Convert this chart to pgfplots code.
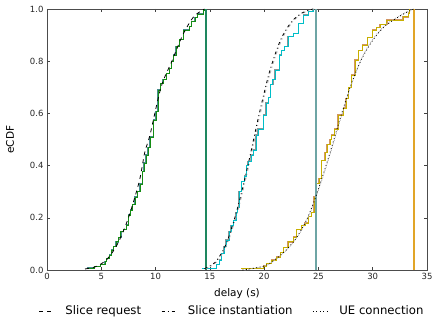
\documentclass[border=0pt]{standalone}
\usepackage{fontspec}
\setmainfont{DejaVu Sans}
\usepackage{pgfplots}
\pgfplotsset{compat=1.18}
\definecolor{cgreen}{RGB}{20,140,20}
\definecolor{cteal}{RGB}{70,140,140}
\definecolor{cvert1}{RGB}{30,135,95}
\definecolor{ccyan}{RGB}{0,190,200}
\definecolor{cgray}{RGB}{135,150,150}
\definecolor{cvert2}{RGB}{110,165,165}
\definecolor{cyel}{RGB}{200,175,0}
\definecolor{ctan}{RGB}{210,150,100}
\definecolor{cvert3}{RGB}{225,165,40}
\begin{document}
\begin{tikzpicture}
\useasboundingbox (-47bp,-50bp) rectangle (398bp,270bp);
\begin{axis}[
  at={(0,0)}, anchor=south west,
  width=380bp, height=261bp, scale only axis,
  xmin=0, xmax=35, ymin=0, ymax=1,
  xtick={0,5,...,35}, ytick={0,0.2,...,1.0},
  yticklabel style={/pgf/number format/.cd,fixed,fixed zerofill,precision=1},
  /pgf/number format/assume math mode=true,
  tick align=inside, major tick length=3bp,
  tick style={black!75, line width=0.5pt},
  axis line style={black!70, line width=0.8pt},
  tick label style={font=\fontsize{8.5bp}{10bp}\selectfont, text=black!85},
  label style={font=\fontsize{10.5bp}{12bp}\selectfont},
  xlabel={delay (s)}, ylabel={eCDF},
  xlabel style={at={(axis description cs:0.5,-0.092)}, anchor=center},
  ylabel style={at={(axis description cs:-0.097,0.5)}, anchor=center},
  legend columns=3,
  legend style={draw=none, fill=none, at={(axis description cs:0.487,-0.157)}, anchor=center,
    font=\fontsize{11.7bp}{13bp}\selectfont,
    /tikz/every odd column/.append style={column sep=9bp},
    /tikz/every even column/.append style={column sep=18bp}},
  legend image code/.code={\draw[#1] (0bp,0bp) -- (15bp,0bp);},
  clip=true,
]
% group 1 teal (under)
\addplot[const plot mark left, cteal, line width=1.4pt, forget plot] coordinates {
(3.65,0.007) (4.4,0.013) (4.94,0.02) (5.34,0.032) (5.5,0.045) (5.74,0.057) (5.96,0.077) (6.1,0.09)
(6.37,0.108) (6.58,0.125) (6.8,0.147) (7.05,0.155) (7.3,0.172) (7.5,0.21) (7.67,0.23) (7.9,0.25)
(8.12,0.28) (8.33,0.30) (8.58,0.33) (8.79,0.377) (8.95,0.41) (9.13,0.44) (9.3,0.47) (9.48,0.51)
(9.79,0.575) (10.03,0.607) (10.2,0.69) (10.46,0.715) (10.7,0.73) (11.0,0.754) (11.27,0.773)
(11.48,0.80) (11.63,0.824) (11.88,0.856) (12.19,0.884) (12.6,0.92) (13.1,0.932) (13.3,0.951)
(13.63,0.968) (13.84,0.981) (14.4,0.994) (14.5,1.0)};
% group 1 green
\addplot[const plot mark left, cgreen, line width=0.7pt, forget plot] coordinates {
(3.65,0.007) (4.4,0.013) (4.94,0.02) (5.34,0.032) (5.5,0.045) (5.74,0.057) (5.96,0.077) (6.1,0.09)
(6.37,0.108) (6.58,0.125) (6.8,0.147) (7.05,0.155) (7.3,0.172) (7.5,0.21) (7.67,0.23) (7.9,0.25)
(8.12,0.28) (8.33,0.30) (8.58,0.33) (8.79,0.377) (8.95,0.41) (9.13,0.44) (9.3,0.47) (9.48,0.51)
(9.79,0.575) (10.03,0.607) (10.25,0.69) (10.46,0.715) (10.7,0.73) (11.0,0.754) (11.27,0.773)
(11.48,0.80) (11.63,0.824) (11.88,0.856) (12.19,0.884) (12.6,0.92) (13.1,0.932) (13.3,0.951)
(13.63,0.968) (13.84,0.981) (14.4,0.994) (14.5,1.0)};
% group 2 gray (under)
\addplot[const plot mark left, cgray, line width=1.4pt, forget plot] coordinates {
(14.3,0.006) (15.6,0.02) (15.9,0.038) (16.1,0.064) (16.3,0.09) (16.5,0.115) (16.75,0.147)
(16.94,0.17) (17.2,0.19) (17.4,0.22) (17.55,0.24) (17.7,0.30) (17.9,0.34) (18.2,0.36) (18.4,0.40)
(18.5,0.415) (18.8,0.44) (19.0,0.46) (19.25,0.517) (19.45,0.54) (19.92,0.594) (20.16,0.64)
(20.38,0.66) (20.6,0.71) (20.8,0.73) (21.0,0.766) (21.4,0.824) (21.6,0.84) (21.9,0.857)
(22.2,0.894) (22.7,0.906) (23.15,0.945) (23.6,0.977) (24.06,0.99) (24.5,1.0)};
% group 2 cyan
\addplot[const plot mark left, ccyan, line width=0.7pt, forget plot] coordinates {
(14.24,0.006) (15.6,0.02) (15.9,0.038) (16.1,0.064) (16.3,0.09) (16.5,0.115) (16.75,0.147)
(16.94,0.17) (17.2,0.19) (17.4,0.22) (17.55,0.24) (17.7,0.30) (17.9,0.34) (18.2,0.36) (18.4,0.40)
(18.5,0.415) (18.8,0.44) (19.0,0.46) (19.25,0.517) (19.45,0.54) (19.92,0.594) (20.16,0.64)
(20.38,0.66) (20.6,0.71) (20.8,0.73) (21.0,0.766) (21.4,0.824) (21.6,0.84) (21.9,0.857)
(22.2,0.894) (22.7,0.906) (23.15,0.945) (23.6,0.977) (24.06,0.99) (24.5,1.0)};
% group 3 tan (under)
\addplot[const plot mark left, ctan, line width=1.4pt, forget plot] coordinates {
(19.9,0.015) (20.2,0.026) (20.7,0.038) (21.15,0.05) (21.5,0.066) (21.8,0.087) (22.2,0.108)
(22.7,0.127) (23.0,0.156) (23.45,0.17) (23.76,0.18) (24.06,0.204) (24.37,0.22) (24.6,0.28)
(24.83,0.332) (25.07,0.35) (25.3,0.42) (25.6,0.45) (25.8,0.48) (26.06,0.50) (26.2,0.517)
(26.5,0.54) (26.8,0.594) (27.3,0.62) (27.53,0.658) (27.75,0.70) (28.05,0.747) (28.36,0.805)
(28.67,0.84) (29.07,0.862) (29.5,0.89) (30.0,0.92) (30.36,0.93) (30.67,0.94) (31.3,0.958)
(32.8,0.97) (33.3,0.985) (33.4,1.0)};
% group 3 yellow
\addplot[const plot mark left, cyel, line width=0.7pt, forget plot] coordinates {
(17.9,0.006) (19.9,0.015) (20.2,0.026) (20.7,0.038) (21.15,0.05) (21.5,0.066) (21.8,0.087) (22.2,0.108)
(22.7,0.127) (23.0,0.156) (23.45,0.17) (23.76,0.18) (24.06,0.204) (24.37,0.22) (24.6,0.28)
(24.83,0.332) (25.07,0.35) (25.3,0.42) (25.6,0.45) (25.8,0.48) (26.06,0.50) (26.2,0.517)
(26.5,0.54) (26.8,0.594) (27.3,0.62) (27.53,0.658) (27.75,0.70) (28.05,0.747) (28.36,0.805)
(28.67,0.84) (29.07,0.862) (29.5,0.89) (30.0,0.92) (30.36,0.93) (30.67,0.94) (31.3,0.958)
(32.5,0.958) (32.8,0.97) (33.3,0.985) (33.4,1.0)};
% vertical lines (max)
\addplot[cvert1, line width=1.8pt, forget plot] coordinates {(14.62,0) (14.62,1)};
\addplot[cvert2, line width=1.5pt, forget plot] coordinates {(24.77,0) (24.77,1)};
\addplot[cvert3, line width=1.5pt, forget plot] coordinates {(33.8,0) (33.8,1)};
% light gray fits
\addplot[black!30, line width=0.8pt, dash pattern=on 3bp off 3bp on 1bp off 3bp, smooth, forget plot] coordinates {
(14.6,0.005) (15.6,0.03) (16.6,0.1) (17.6,0.23) (18.6,0.40) (19.6,0.59) (20.6,0.76) (21.6,0.88) (22.6,0.95) (23.6,0.985) (24.6,1.0)};
\addplot[black!30, line width=0.8pt, dash pattern=on 1bp off 2.5bp, smooth, forget plot] coordinates {
(18.2,0.0) (20.2,0.017) (21.2,0.045) (22.2,0.082) (23.2,0.135) (24.2,0.215) (25.2,0.33) (26.2,0.46) (27.2,0.60) (28.2,0.73) (29.2,0.83) (30.2,0.895) (31.2,0.94) (32.2,0.967) (33.2,0.99) (33.8,1.0)};
% fits (black)
\addplot[black, line width=0.8pt, dash pattern=on 4bp off 4bp, smooth] coordinates {
(3.5,0.004) (4.5,0.013) (5.5,0.04) (6.5,0.1) (7.5,0.2) (8.5,0.34) (9.0,0.45) (9.5,0.52) (10.5,0.7) (11.5,0.8) (12.5,0.9) (13.5,0.97) (14.5,1.0)};
\addlegendentry{Slice request}
\addplot[black, line width=0.8pt, dash pattern=on 3bp off 3bp on 1bp off 3bp, smooth] coordinates {
(14.5,0.005) (15.5,0.03) (16.5,0.1) (17.5,0.23) (18.5,0.40) (19.5,0.59) (20.5,0.76) (21.5,0.88) (22.5,0.95) (23.5,0.985) (24.5,1.0)};
\addlegendentry{Slice instantiation}
\addplot[black, line width=0.8pt, dash pattern=on 1bp off 2.5bp, smooth] coordinates {
(18,0.0) (20,0.015) (21,0.04) (22,0.075) (23,0.125) (24,0.2) (25,0.31) (26,0.44) (27,0.58) (28,0.71) (29,0.81) (30,0.88) (31,0.93) (32,0.96) (33,0.985) (33.8,1.0)};
\addlegendentry{UE connection}
\end{axis}
\end{tikzpicture}
\end{document}
